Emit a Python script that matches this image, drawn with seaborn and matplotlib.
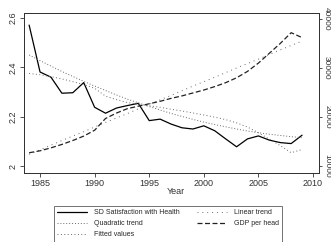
import pandas as pd
import matplotlib
matplotlib.use("Agg")
import matplotlib.pyplot as plt
import seaborn as sns

# Data
years = list(range(1984, 2010))
sd_health = [2.571, 2.381, 2.360, 2.295, 2.297, 2.338, 2.238, 2.214, 2.235, 2.245,
             2.254, 2.184, 2.190, 2.170, 2.155, 2.150, 2.163, 2.143, 2.110, 2.078,
             2.110, 2.122, 2.105, 2.095, 2.091, 2.125]
quad_trend = [2.450, 2.427, 2.405, 2.383, 2.363, 2.343, 2.324, 2.306, 2.288, 2.271,
              2.256, 2.241, 2.227, 2.213, 2.201, 2.189, 2.178, 2.168, 2.159, 2.150,
              2.142, 2.135, 2.129, 2.124, 2.119, 2.115]
fitted = [2.375, 2.370, 2.362, 2.353, 2.342, 2.330, 2.315, 2.283, 2.269, 2.257,
          2.251, 2.244, 2.238, 2.230, 2.223, 2.215, 2.207, 2.198, 2.188, 2.175,
          2.158, 2.135, 2.109, 2.083, 2.054, 2.067]
gdp = [12700, 13100, 13700, 14400, 15200, 16100, 17300, 19700, 20800, 21700,
       22200, 22700, 23200, 23800, 24300, 24900, 25500, 26200, 27000, 28000,
       29300, 31000, 33000, 35000, 37200, 36200]
lin_trend = [12400, 13300, 14250, 15200, 16100, 17000, 17950, 18900, 19800, 20700,
             21650, 22600, 23500, 24400, 25350, 26300, 27200, 28100, 29050, 30000,
             30900, 31800, 32750, 33700, 34600, 35500]

left_ticks = [2.0, 2.2, 2.4, 2.6]
left_labels = ["2", "2.2", "2.4", "2.6"]
right_ticks = [10000, 20000, 30000, 40000]
x_ticks = [1985, 1990, 1995, 2000, 2005, 2010]

df = pd.DataFrame({"year": years, "sd": sd_health, "quad": quad_trend,
                   "fit": fitted, "gdp": gdp, "lin": lin_trend})

sns.set_style("ticks")
plt.rcParams["font.family"] = ["Liberation Sans", "DejaVu Sans"]

fig = plt.figure(figsize=(3.31, 2.42), dpi=100)
ax = fig.add_axes([24 / 331, 1 - 172.7 / 242, (319 - 24) / 331, (172.7 - 13) / 242])
ax2 = ax.twinx()

dot_col = "#6a6a6a"
sns.lineplot(data=df, x="year", y="sd", ax=ax, color="black", lw=0.9,
             label="SD Satisfaction with Health", legend=False)
sns.lineplot(data=df, x="year", y="quad", ax=ax, color=dot_col, lw=0.7,
             linestyle=(0, (1, 2)), label="Quadratic trend", legend=False)
sns.lineplot(data=df, x="year", y="fit", ax=ax, color=dot_col, lw=0.7,
             linestyle=(0, (1, 2.5)), label="Fitted values", legend=False)
sns.lineplot(data=df, x="year", y="lin", ax=ax2, color=dot_col, lw=0.7,
             linestyle=(0, (1, 4)), label="Linear trend", legend=False)
sns.lineplot(data=df, x="year", y="gdp", ax=ax2, color="#222222", lw=0.9,
             linestyle=(0, (4, 2)), label="GDP per head", legend=False)

ax.set_xlim(1983.53, 2010.55)
ax.set_ylim(1.973, 2.62)
ax2.set_ylim(8630, 41220)

ax.set_xticks(x_ticks)
ax.set_yticks(left_ticks)
ax.set_yticklabels(left_labels, rotation=90, va="center")
ax2.set_yticks(right_ticks)
ax2.set_yticklabels([str(t) for t in right_ticks], rotation=270, va="center")

for a in (ax, ax2):
    for s in a.spines.values():
        s.set_linewidth(0.7)
        s.set_color("#333333")
    a.tick_params(labelsize=6.5, length=3, width=0.6, pad=1.5, colors="#333333")
    a.set_xlabel("")
    a.set_ylabel("")
ax2.tick_params(axis="y", length=2.5, pad=0.5, labelsize=6)

fig.text(176 / 331, 1 - 191 / 242, "Year", fontsize=6.5, ha="center", va="center",
         color="#333333")

h1, l1 = ax.get_legend_handles_labels()
h2, l2 = ax2.get_legend_handles_labels()
handles = h1 + h2
labels = l1 + l2
leg = fig.legend(handles, labels, loc="upper center", ncol=2,
                 bbox_to_anchor=(168 / 331, 1 - 202.5 / 242), fontsize=5,
                 frameon=True, fancybox=False, edgecolor="#333333",
                 handlelength=4.2, handletextpad=1.0, columnspacing=2.6,
                 labelspacing=0.55, borderpad=0.5)
leg.get_frame().set_linewidth(0.6)

fig.savefig("out.png", dpi=100)
